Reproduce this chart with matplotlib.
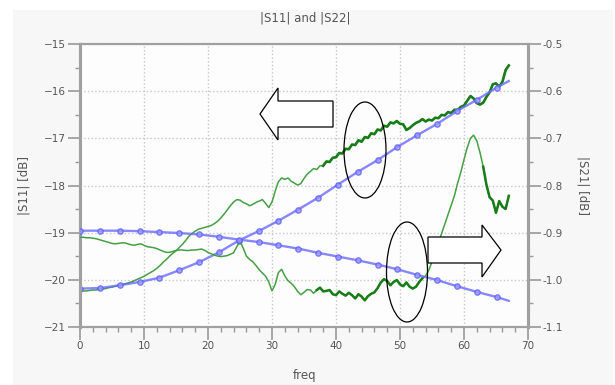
import numpy as np
import matplotlib
matplotlib.use("Agg")
import matplotlib.pyplot as plt
from matplotlib.patches import Polygon, Ellipse, Rectangle
from matplotlib.ticker import MultipleLocator, FormatStrFormatter

# simulated points (blue, with markers)
freq_sim = [0, 3.1, 6.2, 9.3, 12.4, 15.5, 18.6, 21.7, 24.8, 27.9, 31.0, 34.1,
            37.2, 40.3, 43.4, 46.5, 49.6, 52.7, 55.8, 58.9, 62.0, 65.1, 67.0]
s11_sim = [-20.19, -20.18, -20.12, -20.05, -19.96, -19.80, -19.63, -19.42, -19.17,
           -18.97, -18.75, -18.51, -18.26, -17.98, -17.71, -17.46, -17.18, -16.93,
           -16.69, -16.42, -16.18, -15.92, -15.78]
s21_sim = [-0.896, -0.896, -0.896, -0.897, -0.899, -0.901, -0.904, -0.909, -0.915,
           -0.920, -0.927, -0.934, -0.943, -0.951, -0.959, -0.968, -0.978, -0.990,
           -1.001, -1.014, -1.026, -1.037, -1.045]

# measured (green), 0 .. 67 step 0.5
freq_meas = np.arange(0, 67.01, 0.5)
s11_meas = [-20.25, -20.24, -20.24, -20.23, -20.22, -20.22, -20.21, -20.20, -20.19, -20.17,
            -20.16, -20.14, -20.12, -20.11, -20.09, -20.07, -20.05, -20.02, -19.99, -19.96,
            -19.93, -19.89, -19.85, -19.81, -19.76, -19.70, -19.63, -19.57, -19.50, -19.44,
            -19.39, -19.32, -19.25, -19.17, -19.08, -19.02, -18.97, -18.93, -18.91, -18.89,
            -18.87, -18.85, -18.81, -18.76, -18.69, -18.61, -18.52, -18.43, -18.35, -18.30,
            -18.31, -18.36, -18.39, -18.43, -18.40, -18.36, -18.33, -18.30, -18.38, -18.47,
            -18.35, -18.12, -17.92, -17.84, -17.87, -17.84, -17.91, -17.95, -17.99, -17.96,
            -17.85, -17.76, -17.70, -17.64, -17.66, -17.58, -17.58, -17.49, -17.50, -17.41,
            -17.40, -17.31, -17.32, -17.22, -17.23, -17.13, -17.14, -17.04, -17.07, -16.97,
            -16.99, -16.89, -16.91, -16.81, -16.83, -16.73, -16.75, -16.66, -16.68, -16.63,
            -16.69, -16.70, -16.82, -16.78, -16.72, -16.67, -16.64, -16.59, -16.64, -16.60,
            -16.62, -16.56, -16.57, -16.50, -16.51, -16.44, -16.46, -16.39, -16.40, -16.33,
            -16.30, -16.20, -16.10, -16.15, -16.25, -16.28, -16.24, -16.12, -16.02, -15.85,
            -15.83, -15.90, -15.80, -15.55, -15.45]
s21_meas = [-0.910, -0.910, -0.911, -0.911, -0.912, -0.913, -0.915, -0.917, -0.919, -0.921,
            -0.923, -0.924, -0.923, -0.922, -0.922, -0.924, -0.926, -0.927, -0.925, -0.924,
            -0.927, -0.930, -0.931, -0.932, -0.934, -0.937, -0.940, -0.942, -0.942, -0.940,
            -0.938, -0.937, -0.937, -0.938, -0.938, -0.937, -0.937, -0.936, -0.935, -0.938,
            -0.942, -0.945, -0.948, -0.950, -0.951, -0.950, -0.949, -0.946, -0.943, -0.930,
            -0.918, -0.933, -0.950, -0.957, -0.962, -0.970, -0.979, -0.986, -0.993, -1.005,
            -1.024, -1.010, -0.985, -0.978, -0.992, -1.002, -1.008, -1.015, -1.025, -1.032,
            -1.027, -1.021, -1.022, -1.029, -1.022, -1.017, -1.025, -1.024, -1.022, -1.031,
            -1.033, -1.025, -1.030, -1.034, -1.028, -1.033, -1.040, -1.031, -1.036, -1.044,
            -1.035, -1.030, -1.027, -1.018, -1.006, -0.999, -1.003, -1.012, -1.005, -1.001,
            -1.010, -1.014, -1.006, -1.015, -1.019, -1.015, -1.005, -0.997, -0.992, -0.980,
            -0.962, -0.942, -0.922, -0.902, -0.882, -0.862, -0.842, -0.822, -0.795, -0.772,
            -0.745, -0.720, -0.700, -0.693, -0.705, -0.730, -0.760, -0.798, -0.825, -0.832,
            -0.858, -0.833, -0.845, -0.850, -0.822]

W, H = 615, 385
fig = plt.figure(figsize=(W / 100, H / 100), dpi=100, facecolor='white')
# light panel behind everything
bg = Rectangle((13 / W, 0), 600 / W, 1 - 10 / H, transform=fig.transFigure,
               facecolor='#f7f7f7', edgecolor='none')
bg.set_zorder(-10)
fig.add_artist(bg)

ax = fig.add_axes([80 / W, 1 - 326.7 / H, 448 / W, 282.4 / H])
ax.set_facecolor('#fdfdfd')
ax2 = ax.twinx()

txt = '#555555'
ax.set_xlim(0, 70)
ax.set_ylim(-21, -15)
ax2.set_ylim(-1.1, -0.5)
ax.xaxis.set_major_locator(MultipleLocator(10))
ax.xaxis.set_minor_locator(MultipleLocator(2))
ax.yaxis.set_major_locator(MultipleLocator(1))
ax.yaxis.set_minor_locator(MultipleLocator(0.5))
ax2.yaxis.set_major_locator(MultipleLocator(0.1))
ax2.yaxis.set_minor_locator(MultipleLocator(0.05))
ax2.yaxis.set_major_formatter(FormatStrFormatter('%.1f'))

ax.grid(True, which='major', color='#c8c8c8', linestyle=':', linewidth=1.0)
for a in (ax, ax2):
    for side, sp in a.spines.items():
        sp.set_color('#a0a0a0')
        sp.set_linewidth(2.2 if side in ('left', 'right') else 1.5)
    a.tick_params(which='major', length=9, width=1.2, color='#999999', labelsize=7.5,
                  labelcolor=txt, pad=1.5)
    a.tick_params(which='minor', length=3.5, width=1.0, color='#999999')

ax.plot(freq_meas, s11_meas, color='#44a044', lw=1.1, zorder=3)
ax.plot(freq_meas[76:], s11_meas[76:], color='#187c18', lw=1.9, zorder=3)
ax2.plot(freq_meas, s21_meas, color='#44a044', lw=1.1, zorder=3)
ax2.plot(freq_meas[74:108], s21_meas[74:108], color='#187c18', lw=1.8, zorder=3)
ax2.plot(freq_meas[126:], s21_meas[126:], color='#187c18', lw=1.8, zorder=3)

ax.plot(freq_sim, s11_sim, color='#6a6aff', lw=1.7, marker='o', markersize=3.8,
        markerfacecolor='#9a9aff', markeredgecolor='#6060ff', markevery=slice(0, 22),
        alpha=0.8, zorder=4)
ax2.plot(freq_sim, s21_sim, color='#6a6aff', lw=1.7, marker='o', markersize=3.8,
         markerfacecolor='#9a9aff', markeredgecolor='#6060ff', markevery=slice(0, 22),
         alpha=0.8, zorder=4)

fig.text(305 / W, 1 - 18 / H, '|S11| and |S22|', ha='center', va='center',
         fontsize=8.5, color=txt)
fig.text(305 / W, 1 - 376 / H, 'freq', ha='center', va='center', fontsize=8.5, color=txt)
fig.text(24 / W, 1 - 185 / H, '|S11| [dB]', ha='center', va='center', rotation=90,
         fontsize=8.5, color=txt)
fig.text(583 / W, 1 - 185 / H, '|S21| [dB]', ha='center', va='center', rotation=270,
         fontsize=8.5, color=txt)


def px(pts):
    return [(x / W, 1 - y / H) for x, y in pts]


left_arrow = [(260, 114), (278, 88), (278, 101), (333, 101), (333, 127), (278, 127), (278, 140)]
right_arrow = [(428, 237), (482, 237), (482, 225), (501, 250), (482, 277), (482, 263), (428, 263)]
for shape in (left_arrow, right_arrow):
    ax2.add_patch(Polygon(px(shape), closed=True, transform=fig.transFigure, facecolor='white',
                          edgecolor='black', lw=0.9, zorder=6, clip_on=False))
for cx, cy, w, h in [(365, 150, 42, 96), (407, 272, 41, 100)]:
    ax2.add_patch(Ellipse((cx / W, 1 - cy / H), w / W, h / H, transform=fig.transFigure,
                          facecolor='none', edgecolor='black', lw=0.9, zorder=6, clip_on=False))

fig.savefig('out.png', dpi=100, facecolor=fig.get_facecolor())
